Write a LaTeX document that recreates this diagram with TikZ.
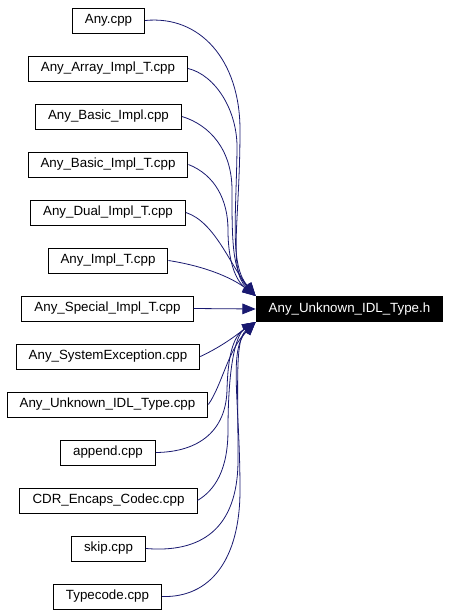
\documentclass[tikz,border=0pt]{standalone}
\usepackage{fontspec}
\setmainfont{Liberation Sans}
\usepackage{tikz}
\usetikzlibrary{arrows.meta}
\usetikzlibrary{positioning}
\definecolor{edgeblue}{HTML}{191970}

\begin{document}
\begin{tikzpicture}[x=0.75pt, y=-0.75pt,
		filebox/.style={draw=black, line width=0.75pt, fill=white, font=\fontsize{10}{12}\selectfont,
			minimum height=18.75pt, inner xsep=9.4pt, inner ysep=0pt},
		hdrbox/.style={filebox, fill=black, text=white},
		incl/.style={draw=edgeblue, line width=0.6pt, -{Triangle[length=10pt, width=8pt]}, fill=none}]

					\useasboundingbox (0,0) rectangle (450,615);

					\node[hdrbox] (hdr) at (349.5,309) {Any\_Unknown\_IDL\_Type.h};

					\node[filebox] (any) at (108.5,20.5) {Any.cpp};
					\node[filebox] (arrayt) at (108,68.5) {Any\_Array\_Impl\_T.cpp};
					\node[filebox] (basic) at (108.5,116.5) {Any\_Basic\_Impl.cpp};
					\node[filebox] (basict) at (108,164.5) {Any\_Basic\_Impl\_T.cpp};
					\node[filebox] (dualt) at (108,212.5) {Any\_Dual\_Impl\_T.cpp};
					\node[filebox] (implt) at (108,260.5) {Any\_Impl\_T.cpp};
					\node[filebox] (specialt) at (107.5,308.5) {Any\_Special\_Impl\_T.cpp};
					\node[filebox] (sysexc) at (108,356.5) {Any\_SystemException.cpp};
					\node[filebox] (unknown) at (107.5,404.5) {Any\_Unknown\_IDL\_Type.cpp};
					\node[filebox] (append) at (108,452.5) {append.cpp};
					\node[filebox] (cdr) at (108.5,500.5) {CDR\_Encaps\_Codec.cpp};
					\node[filebox] (skip) at (108.5,548.5) {skip.cpp};
					\node[filebox] (typecode) at (107.5,596.5) {Typecode.cpp};

					\draw[incl] (any.east) .. controls (200,15) and (240,60) .. (240,130)
						.. controls (240,220) and (228,270) .. (hdr.north west);
					\draw[incl] (arrayt.east) .. controls (215,75) and (238,110) .. (237,150)
						.. controls (236,220) and (230,265) .. (hdr.north west);
					\draw[incl] (basic.east) .. controls (210,125) and (232,150) .. (232,190)
						.. controls (232,240) and (232,270) .. (hdr.north west);
					\draw[incl] (basict.east) .. controls (215,175) and (228,200) .. (228,230)
						.. controls (228,260) and (235,280) .. (hdr.north west);
					\draw[incl] (dualt.east) .. controls (215,222) and (230,265) .. (hdr.north west);
					\draw[incl] (implt.east) .. controls (210,267) and (235,280) .. (hdr.north west);
					\draw[incl] (specialt.east) -- (hdr.west);
					\draw[incl] (sysexc.east) .. controls (225,345) and (240,332) .. (hdr.south west);
					\draw[incl] (unknown.east) .. controls (222,385) and (228,350) .. (hdr.south west);
					\draw[incl] (append.east) .. controls (200,452) and (226,430) .. (227,390)
						.. controls (228,350) and (235,335) .. (hdr.south west);
					\draw[incl] (cdr.east) .. controls (215,490) and (228,470) .. (228,430)
						.. controls (228,370) and (235,335) .. (hdr.south west);
					\draw[incl] (skip.east) .. controls (200,553) and (238,530) .. (238,460)
						.. controls (238,380) and (235,340) .. (hdr.south west);
					\draw[incl] (typecode.east) .. controls (210,598) and (240,560) .. (240,490)
						.. controls (240,400) and (228,350) .. (hdr.south west);

				\end{tikzpicture}
\end{document}
